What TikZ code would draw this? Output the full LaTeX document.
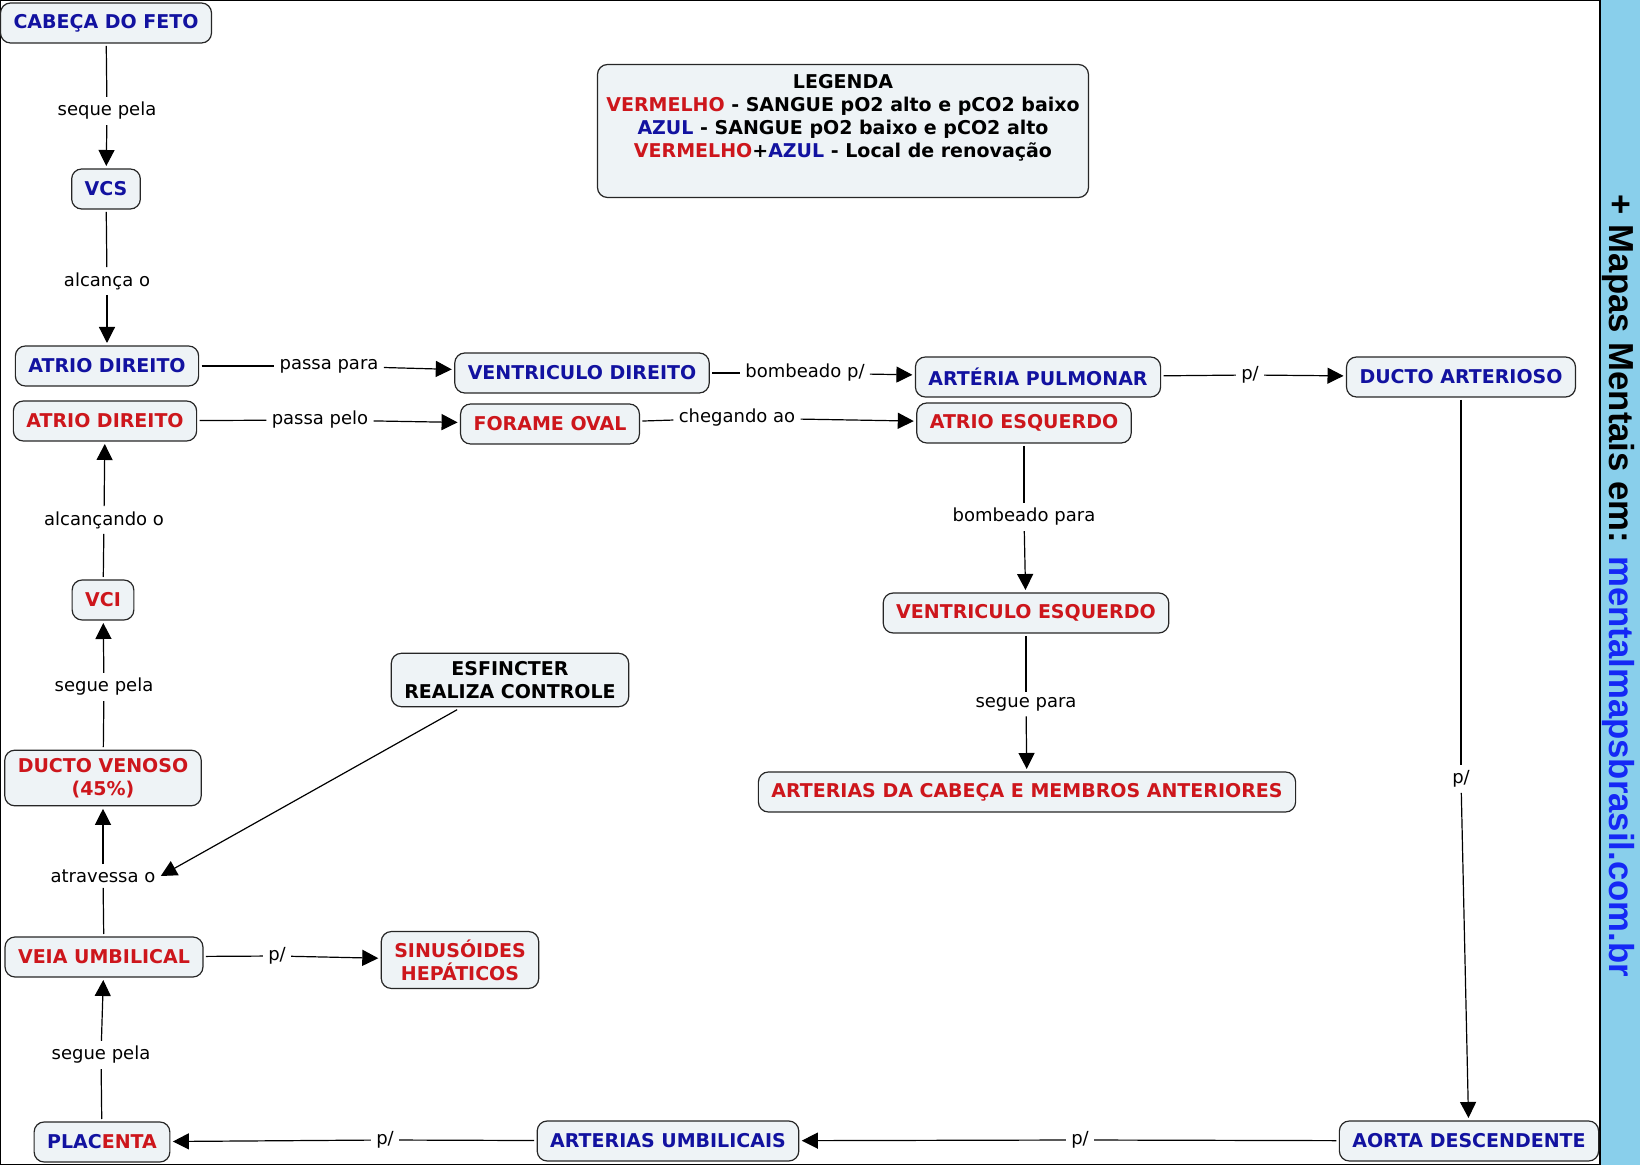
\documentclass[tikz,border=0pt]{standalone}
\usepackage{fontspec}
\usepackage{graphicx}
\setmainfont{DejaVu Sans}
\newfontfamily\barfont{Liberation Sans}
\usetikzlibrary{arrows.meta}

\definecolor{fetoblue}{RGB}{18,18,160}
\definecolor{fetored}{RGB}{205,22,28}
\definecolor{boxfill}{RGB}{238,243,246}
\definecolor{barblue}{RGB}{137,207,235}
\definecolor{sitelink}{RGB}{20,40,245}

\begin{document}
\begin{tikzpicture}[x=0.5pt, y=-0.5pt,
	box/.style={draw=black!85, line width=0.6pt, rounded corners=5pt, fill=boxfill,
		minimum height=20pt, inner xsep=6.5pt, inner ysep=4pt, outer sep=1.5pt, align=center,
		font=\fontsize{9.5}{11.5}\selectfont\bfseries},
	bluebox/.style={box, text=fetoblue},
	redbox/.style={box, text=fetored},
	linkw/.style={font=\fontsize{9}{11}\selectfont, inner sep=2.5pt},
	conn/.style={line width=0.6pt, draw=black},
	arr/.style={conn, -{Triangle[length=8pt, width=8pt]}}
]
	\useasboundingbox (0,0) rectangle (1640,1165);
	
	% frame and side bar
	\fill [barblue] (1600,0) rectangle (1640,1165);
	\draw [line width=0.6pt] (0.6,0.6) rectangle (1600,1164.4);
	\node [rotate=-90, anchor=base, inner sep=0] (site) at (1609,586)
		{\resizebox{391pt}{!}{\barfont\bfseries + Mapas Mentais em: \textcolor{sitelink}{mentalmapsbrasil.com.br}}};
	
	% legend
	\node [box, minimum width=245.5pt, minimum height=66.5pt] (legend) at (843,131) {};
	\node [align=center, font=\fontsize{9.5}{11.5}\selectfont\bfseries] (legtext) at (843,118)
		{LEGENDA\\
		\textcolor{fetored}{VERMELHO} - SANGUE pO2 alto e pCO2 baixo\\
		\textcolor{fetoblue}{AZUL} - SANGUE pO2 baixo e pCO2 alto\\
		\textcolor{fetored}{VERMELHO}+\textcolor{fetoblue}{AZUL} - Local de renovação};
	
	% left column
	\node [bluebox] (cabeca) at (106,23) {CABEÇA DO FETO};
	\node [linkw] (l1) at (107,111) {seque pela};
	\node [bluebox] (vcs) at (106,189) {VCS};
	\node [linkw] (l2) at (107,281) {alcança o};
	\node [bluebox] (atriodb) at (107,366) {ATRIO DIREITO};
	\node [redbox] (atriodr) at (105,421) {ATRIO DIREITO};
	\node [linkw] (l3) at (104,520) {alcançando o};
	\node [redbox] (vci) at (103,600) {VCI};
	\node [linkw] (l4) at (104,687) {segue pela};
	\node [redbox] (ductov) at (103,778) {DUCTO VENOSO\\(45\%)};
	\node [linkw] (l5) at (103,876) {atravessa o};
	\node [redbox] (veia) at (104,957) {VEIA UMBILICAL};
	\node [linkw] (l6) at (101,1055) {segue pela};
	\node [box] (placenta) at (102,1142) {\textcolor{fetoblue}{PLAC}\textcolor{fetored}{ENTA}};
	\node [linkw] (l7) at (277,956) {p/};
	\node [redbox] (sinus) at (460,960) {SINUSÓIDES\\HEPÁTICOS};
	\node [box] (esf) at (510,680) {ESFINCTER\\REALIZA CONTROLE};
	
	% middle rows
	\node [linkw] (l8) at (329,366) {passa para};
	\node [bluebox] (ventd) at (582,373) {VENTRICULO DIREITO};
	\node [linkw] (l9) at (320,420) {passa pelo};
	\node [redbox] (forame) at (550,424) {FORAME OVAL};
	\node [linkw] (l10) at (805,373) {bombeado p/};
	\node [linkw] (l11) at (737,418) {chegando ao};
	\node [bluebox] (artpulm) at (1038,377) {ARTÉRIA PULMONAR};
	\node [redbox] (atrioe) at (1024,423) {ATRIO ESQUERDO};
	\node [linkw] (l12) at (1250,375) {p/};
	\node [bluebox] (ductoa) at (1461,377) {DUCTO ARTERIOSO};
	\node [linkw] (l13) at (1024,517) {bombeado para};
	\node [redbox] (ventre) at (1026,613) {VENTRICULO ESQUERDO};
	\node [linkw] (l14) at (1026,704) {segue para};
	\node [redbox] (artcab) at (1027,792) {ARTERIAS DA CABEÇA E MEMBROS ANTERIORES};
	\node [linkw] (l15) at (1461,779) {p/};
	
	% bottom row
	\node [bluebox] (aorta) at (1469,1141) {AORTA DESCENDENTE};
	\node [linkw] (l16) at (1080,1140) {p/};
	\node [bluebox] (artumb) at (668,1141) {ARTERIAS UMBILICAIS};
	\node [linkw] (l17) at (385,1140) {p/};
	
	% venous path
	\draw [conn] (cabeca) -- (l1);
	\draw [arr] (l1) -- (vcs);
	\draw [conn] (vcs) -- (l2);
	\draw [arr] (l2) -- (atriodb);
	\draw [conn] (atriodb) -- (l8);
	\draw [arr] (l8) -- (ventd);
	\draw [conn] (ventd) -- (l10);
	\draw [arr] (l10) -- (artpulm);
	\draw [conn] (artpulm) -- (l12);
	\draw [arr] (l12) -- (ductoa);
	\draw [conn] (ductoa) -- (l15);
	\draw [arr] (l15) -- (aorta);
	\draw [conn] (aorta) -- (l16);
	\draw [arr] (l16) -- (artumb);
	\draw [conn] (artumb) -- (l17);
	\draw [arr] (l17) -- (placenta);
	
	% placenta back up
	\draw [conn] (placenta) -- (l6);
	\draw [arr] (l6) -- (veia);
	\draw [conn] (veia) -- (l7);
	\draw [arr] (l7) -- (sinus);
	\draw [conn] (veia) -- (l5);
	\draw [arr] (l5) -- (ductov);
	\draw [arr] (esf) -- (l5.east);
	\draw [conn] (ductov) -- (l4);
	\draw [arr] (l4) -- (vci);
	\draw [conn] (vci) -- (l3);
	\draw [arr] (l3) -- (atriodr);
	
	% through the oval foramen
	\draw [conn] (atriodr) -- (l9);
	\draw [arr] (l9) -- (forame);
	\draw [conn] (forame) -- (l11);
	\draw [arr] (l11) -- (atrioe);
	\draw [conn] (atrioe) -- (l13);
	\draw [arr] (l13) -- (ventre);
	\draw [conn] (ventre) -- (l14);
	\draw [arr] (l14) -- (artcab);
	
\end{tikzpicture}
\end{document}
